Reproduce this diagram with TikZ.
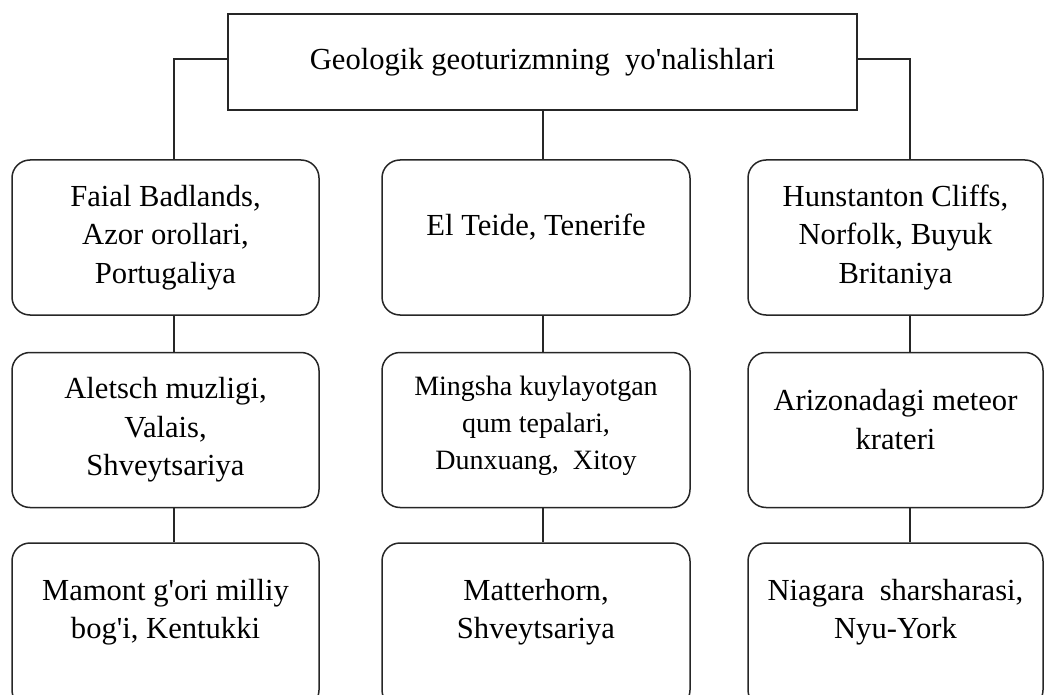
\documentclass[tikz,border=0pt]{standalone}
\usepackage{fontspec}
\newfontfamily\boxfont{Liberation Serif}
\begin{document}
\begin{tikzpicture}[x=1pt,y=-1pt,line width=1.5pt,
    head/.style={draw=black!85,align=center,minimum width=629pt,minimum height=96pt,
      font=\boxfont\fontsize{30.6}{38.5}\selectfont},
    card/.style={draw=black!85,rounded corners=18pt,align=center,inner sep=0pt,
      minimum height=155pt,font=\boxfont\fontsize{30.6}{38.5}\selectfont},
    small/.style={font=\boxfont\fontsize{28}{37}\selectfont},
    link/.style={draw=black!85}]
  \useasboundingbox (0,0) rectangle (1044,695);

  % title
  \node[head] (top) at (542.5,62) {Geologik geoturizmning~~yo'nalishlari};

  % x of the vertical links
  \coordinate (cl) at (174,0);
  \coordinate (cm) at (543,0);
  \coordinate (cr) at (910,0);

  % left column
  \node[card,minimum width=307pt] (l1) at (165.5,237.5) {Faial Badlands,\\Azor orollari,\\Portugaliya};
  \node[card,minimum width=307pt] (l2) at (165.5,430) {Aletsch muzligi,\\Valais,\\Shveytsariya};
  \node[card,minimum width=307pt,minimum height=165pt,text depth=33pt] (l3) at (165.5,625.5) {Mamont~g'ori milliy\\bog'i, Kentukki};

  % middle column
  \node[card,minimum width=308pt,text depth=26pt] (m1) at (536,237.5) {El Teide, Tenerife};
  \node[card,minimum width=308pt,small,text depth=15pt] (m2) at (536,430) {Mingsha~kuylayotgan\\qum tepalari,\\Dunxuang,~~Xitoy};
  \node[card,minimum width=308pt,minimum height=165pt,text depth=33pt] (m3) at (536,625.5) {Matterhorn,\\Shveytsariya};

  % right column
  \node[card,minimum width=295pt] (r1) at (895.5,237.5) {Hunstanton Cliffs,\\Norfolk, Buyuk\\Britaniya};
  \node[card,minimum width=295pt,text depth=21pt] (r2) at (895.5,430) {Arizonadagi~meteor\\krateri};
  \node[card,minimum width=295pt,minimum height=165pt,text depth=33pt] (r3) at (895.5,625.5) {Niagara~~sharsharasi,\\Nyu-York};

  % links
  \draw[link] ([yshift=3pt]top.west) -| (l1.north -| cl);
  \draw[link] (top.south -| cm) -- (m1.north -| cm);
  \draw[link] ([yshift=3pt]top.east) -| (r1.north -| cr);
  \draw[link] (l1.south -| cl) -- (l2.north -| cl);
  \draw[link] (l2.south -| cl) -- (l3.north -| cl);
  \draw[link] (m1.south -| cm) -- (m2.north -| cm);
  \draw[link] (m2.south -| cm) -- (m3.north -| cm);
  \draw[link] (r1.south -| cr) -- (r2.north -| cr);
  \draw[link] (r2.south -| cr) -- (r3.north -| cr);
\end{tikzpicture}
\end{document}
